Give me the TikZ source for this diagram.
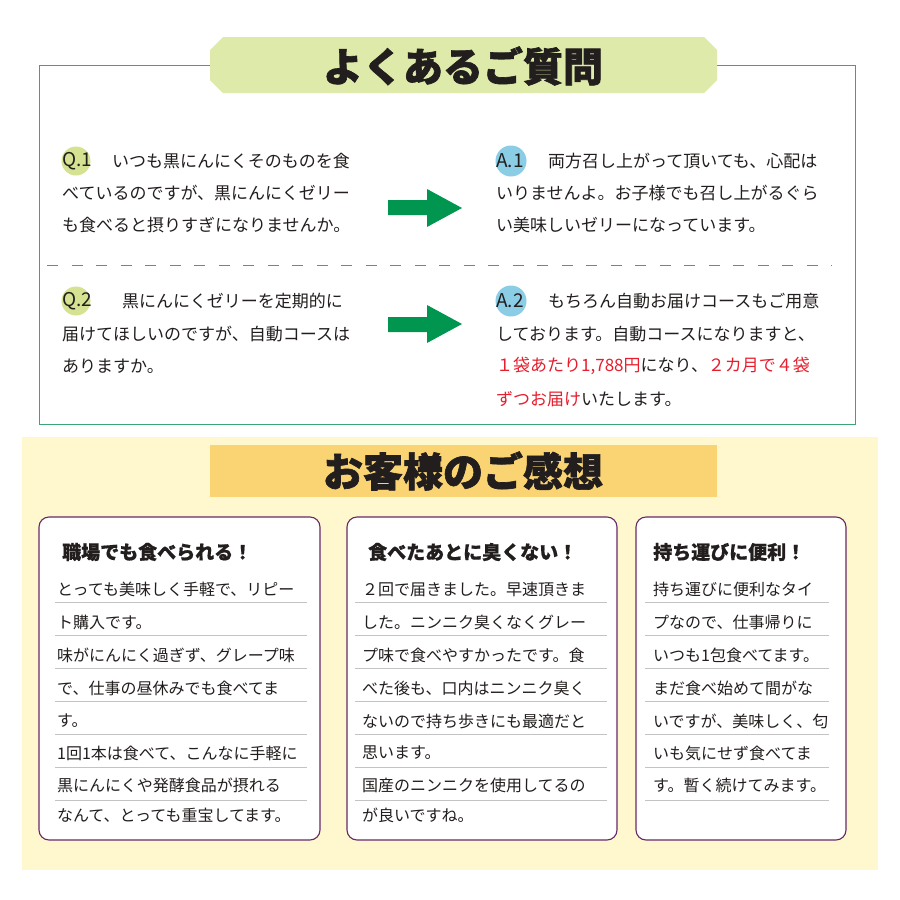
\documentclass[tikz,border=0pt]{standalone}
\usepackage{fontspec}
\setmainfont{Noto Sans CJK JP}
\newfontfamily\heavyfont{Noto Sans CJK JP}[BoldFeatures={FakeBold=1.6}]
\newfontfamily\semiheavyfont{Noto Sans CJK JP}[BoldFeatures={FakeBold=0.8}]
\definecolor{framegreen}{RGB}{60,165,115}
\definecolor{bannergreen}{RGB}{222,234,170}
\definecolor{qcircle}{RGB}{212,226,145}
\definecolor{acircle}{RGB}{140,205,230}
\definecolor{arrowgreen}{RGB}{0,150,80}
\definecolor{bgyellow}{RGB}{255,247,205}
\definecolor{bannerorange}{RGB}{250,212,115}
\definecolor{cardpurple}{RGB}{105,40,105}
\definecolor{rulegray}{RGB}{195,195,195}
\definecolor{txt}{RGB}{35,30,30}
\definecolor{redtxt}{RGB}{230,30,45}
\tikzset{
  qa/.style={anchor=west, inner sep=0pt, text=txt, font=\fontsize{17}{20}\selectfont},
  lbl/.style={anchor=west, inner sep=0pt, text=txt, font=\fontsize{19}{22}\selectfont},
  hand/.style={anchor=west, inner sep=0pt, text=txt, font=\fontsize{16}{18}\selectfont},
  cardtitle/.style={anchor=west, inner sep=0pt, text=txt, font=\semiheavyfont\bfseries\fontsize{19}{22}\selectfont},
  bigtitle/.style={inner sep=0pt, text=txt, font=\heavyfont\bfseries\fontsize{40}{44}\selectfont},
  card/.style={draw=cardpurple, line width=1.1pt, fill=white, rounded corners=10pt},
  ruled/.style={draw=rulegray, line width=0.8pt},
  bigarrow/.style={fill=arrowgreen, draw=none},
}
\newcommand{\rd}[1]{\textcolor{redtxt}{#1}}
\begin{document}
\begin{tikzpicture}[x=1pt,y=-1pt]
\useasboundingbox (0,0) rectangle (900,900);
\fill[white] (0,0) rectangle (900,900);
% ---------- FAQ frame ----------
\draw[framegreen, line width=1pt] (39,65) rectangle (855,424);
\fill[bannergreen] (210,50) -- (223,37) -- (704,37) -- (717,50) -- (717,80) -- (704,93) -- (223,93) -- (210,80) -- cycle;
\node[bigtitle] (faqtitle) at (463,66) {よくあるご質問};
% dashed separator
\draw[framegreen, line width=1pt, dash pattern=on 11pt off 13.5pt] (47,265) -- (832,265);
% Q.1
\fill[qcircle] (76,161) circle (14.5);
\node[lbl] (q1l) at (62,161) {Q.1};
\node[qa] (q1a) at (112,161) {いつも黒にんにくそのものを食};
\node[qa] (q1b) at (62,193) {べているのですが、黒にんにくゼリー};
\node[qa] (q1c) at (62,225) {も食べると摂りすぎになりませんか。};
% arrow 1
\fill[bigarrow] (388,200) -- (427,200) -- (427,189) -- (462,208) -- (427,227) -- (427,215) -- (388,215) -- cycle;
% A.1
\fill[acircle] (511,161) circle (15.5);
\node[lbl] (a1l) at (496,161) {A.1};
\node[qa] (a1a) at (548,161) {両方召し上がって頂いても、心配は};
\node[qa] (a1b) at (496,193) {いりませんよ。お子様でも召し上がるぐら};
\node[qa] (a1c) at (496,225) {い美味しいゼリーになっています。};
% Q.2
\fill[qcircle] (76,301) circle (14.5);
\node[lbl] (q2l) at (62,301) {Q.2};
\node[qa] (q2a) at (122,301) {黒にんにくゼリーを定期的に};
\node[qa] (q2b) at (62,334) {届けてほしいのですが、自動コースは};
\node[qa] (q2c) at (62,366) {ありますか。};
% arrow 2
\fill[bigarrow] (388,317) -- (427,317) -- (427,305) -- (462,324) -- (427,343) -- (427,332) -- (388,332) -- cycle;
% A.2
\fill[acircle] (511,301) circle (15.5);
\node[lbl] (a2l) at (496,301) {A.2};
\node[qa] (a2a) at (548,301) {もちろん自動お届けコースもご用意};
\node[qa] (a2b) at (496,334) {しております。自動コースになりますと、};
\node[qa] (a2c) at (496,366) {\rd{１袋あたり1,788円}になり、\rd{２カ月で４袋}};
\node[qa] (a2d) at (496,399) {\rd{ずつお届け}いたします。};
% ---------- Reviews ----------
\fill[bgyellow] (22,437) rectangle (878,870);
\fill[bannerorange] (210,445) rectangle (717,497);
\node[bigtitle] (revtitle) at (463,471) {お客様のご感想};
% cards
\draw[card] (39,517) rectangle (320,840);
\draw[card] (347,517) rectangle (617,840);
\draw[card] (636,517) rectangle (846,840);
\node[cardtitle] (c1t) at (62,552) {職場でも食べられる！};
\node[cardtitle] (c2t) at (368,552) {食べたあとに臭くない！};
\node[cardtitle] (c3t) at (653,552) {持ち運びに便利！};
\foreach \k in {0,...,6}{
  \draw[ruled] (55,602+33*\k) -- (307,602+33*\k);
  \draw[ruled] (355,602+33*\k) -- (607,602+33*\k);
  \draw[ruled] (645,602+33*\k) -- (829,602+33*\k);
}
% card 1 text
\node[hand] (c1r1) at (57,589) {とっても美味しく手軽で、リピー};
\node[hand] (c1r2) at (57,622) {ト購入です。};
\node[hand] (c1r3) at (57,655) {味がにんにく過ぎず、グレープ味};
\node[hand] (c1r4) at (57,688) {で、仕事の昼休みでも食べてま};
\node[hand] (c1r5) at (57,721) {す。};
\node[hand] (c1r6) at (57,753) {1回1本は食べて、こんなに手軽に};
\node[hand] (c1r7) at (57,785) {黒にんにくや発酵食品が摂れる};
\node[hand] (c1r8) at (57,815) {なんて、とっても重宝してます。};
% card 2 text
\node[hand] (c2r1) at (362,589) {２回で届きました。早速頂きま};
\node[hand] (c2r2) at (362,622) {した。ニンニク臭くなくグレー};
\node[hand] (c2r3) at (362,655) {プ味で食べやすかったです。食};
\node[hand] (c2r4) at (362,688) {べた後も、口内はニンニク臭く};
\node[hand] (c2r5) at (362,721) {ないので持ち歩きにも最適だと};
\node[hand] (c2r6) at (362,753) {思います。};
\node[hand] (c2r7) at (362,785) {国産のニンニクを使用してるの};
\node[hand] (c2r8) at (362,815) {が良いですね。};
% card 3 text
\node[hand] (c3r1) at (653,589) {持ち運びに便利なタイ};
\node[hand] (c3r2) at (653,622) {プなので、仕事帰りに};
\node[hand] (c3r3) at (653,655) {いつも1包食べてます。};
\node[hand] (c3r4) at (653,688) {まだ食べ始めて間がな};
\node[hand] (c3r5) at (653,721) {いですが、美味しく、匂};
\node[hand] (c3r6) at (653,753) {いも気にせず食べてま};
\node[hand] (c3r7) at (653,785) {す。暫く続けてみます。};
\end{tikzpicture}
\end{document}
